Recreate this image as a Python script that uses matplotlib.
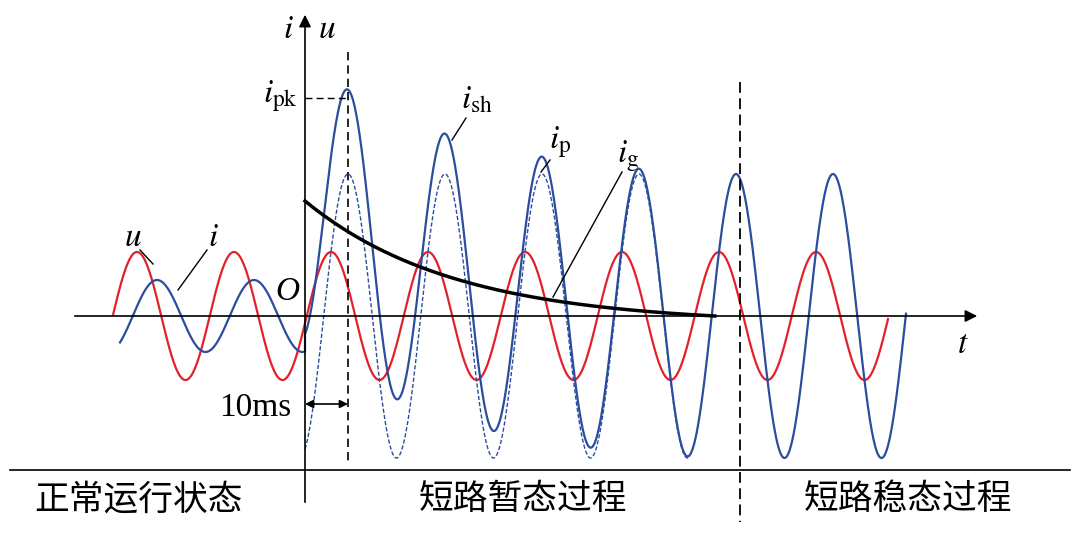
import numpy as np
import matplotlib
matplotlib.use("Agg")
import matplotlib.pyplot as plt

# schematic parameters (pixel units)
period = 97.0
u_amp, u_peak_x, u_start, u_end = 64, 137, 113, 888
i0_amp, i0_peak_x, i0_start = 36, 157, 120
fault_x = 305
ip_amp, ip_peak_x, ip_end = 142, 348, 690
ig0, ig_tau, ig_end = 115, 150, 715
i_end = 906
y0 = 316

red = "#e3202b"
blue = "#2b4d9e"
serif = ["Liberation Serif", "DejaVu Serif"]
cjk = ["Noto Sans CJK SC", "DejaVu Sans"]

fig = plt.figure(figsize=(10.8, 5.33), dpi=100)
ax = fig.add_axes([0, 0, 1, 1])
ax.set_xlim(0, 1080); ax.set_ylim(533, 0); ax.axis("off")

x = np.linspace(u_start, u_end, 2000)
ax.plot(x, y0 - u_amp*np.cos(2*np.pi*(x-u_peak_x)/period), color=red, lw=1.6)

x = np.linspace(i0_start, fault_x, 800)
i_pre = i0_amp*np.cos(2*np.pi*(x-i0_peak_x)/period)
xf = np.linspace(fault_x, i_end, 3000)
ip = ip_amp*np.cos(2*np.pi*(xf-ip_peak_x)/period)
floor = np.exp(-(ig_end-fault_x)/ig_tau)
ig = ig0*np.clip((np.exp(-(xf-fault_x)/ig_tau) - floor)/(1-floor), 0, None)
tot = ip + ig
ax.plot(np.r_[x, xf], y0 - np.r_[i_pre, tot], color=blue, lw=1.6)
m = xf <= ip_end
ax.plot(xf[m], y0 - ip[m], color=blue, lw=1.0, ls=(0, (3, 1.5)))
m = xf <= ig_end
ax.plot(xf[m], y0 - ig[m], color="black", lw=2.5)

# axes
ax.annotate("", xy=(980, y0), xytext=(72, y0), arrowprops=dict(arrowstyle="-|>", color="k", lw=1.2, mutation_scale=18))
ax.annotate("", xy=(fault_x, 12), xytext=(fault_x, 505), arrowprops=dict(arrowstyle="-|>", color="k", lw=1.2, mutation_scale=18))
ax.plot([10, 1070], [470, 470], color="k", lw=1.2)
ax.plot([348, 348], [52, 462], color="k", lw=1.2, ls=(0, (5, 3)))
ax.plot([fault_x, 348], [98, 98], color="k", lw=1.0, ls=(0, (5, 3)))
ax.plot([740, 740], [82, 522], color="k", lw=1.3, ls=(0, (6, 3)))
ax.annotate("", xy=(fault_x, 404), xytext=(348, 404), arrowprops=dict(arrowstyle="<|-|>", color="k", lw=1.2, mutation_scale=12, shrinkA=0, shrinkB=0))

fs = 24
def t(xx, yy, s, **kw):
    ax.text(xx, yy, s, family=serif, fontsize=fs, ha="center", va="center", **kw)
t(288, 30, r"$\mathit{i}$", math_fontfamily="stix")
t(327, 30, r"$\mathit{u}$", math_fontfamily="stix")
t(280, 96, r"$\mathit{i}_{\rm pk}$", math_fontfamily="stix")
t(477, 100, r"$\mathit{i}_{\rm sh}$", math_fontfamily="stix")
t(560, 142, r"$\mathit{i}_{\rm p}$", math_fontfamily="stix")
t(628, 156, r"$\mathit{i}_{\rm g}$", math_fontfamily="stix")
t(133, 238, r"$\mathit{u}$", math_fontfamily="stix")
t(213, 238, r"$\mathit{i}$", math_fontfamily="stix")
t(287, 292, "O", style="italic")
t(963, 345, r"$\mathit{t}$", math_fontfamily="stix")
t(255, 408, "10ms")
for (a, b) in [((140, 250), (153, 264)), ((207, 250), (178, 290)), ((466, 118), (452, 140)),
               ((550, 160), (541, 172)), ((622, 172), (553, 297))]:
    ax.plot([a[0], b[0]], [a[1], b[1]], color="k", lw=1.0)
for xx, s in [(138, "正常运行状态"), (523, "短路暂态过程"), (908, "短路稳态过程")]:
    ax.text(xx, 500, s, family=cjk, fontsize=25, ha="center", va="center")

fig.savefig("out.png", dpi=100)
